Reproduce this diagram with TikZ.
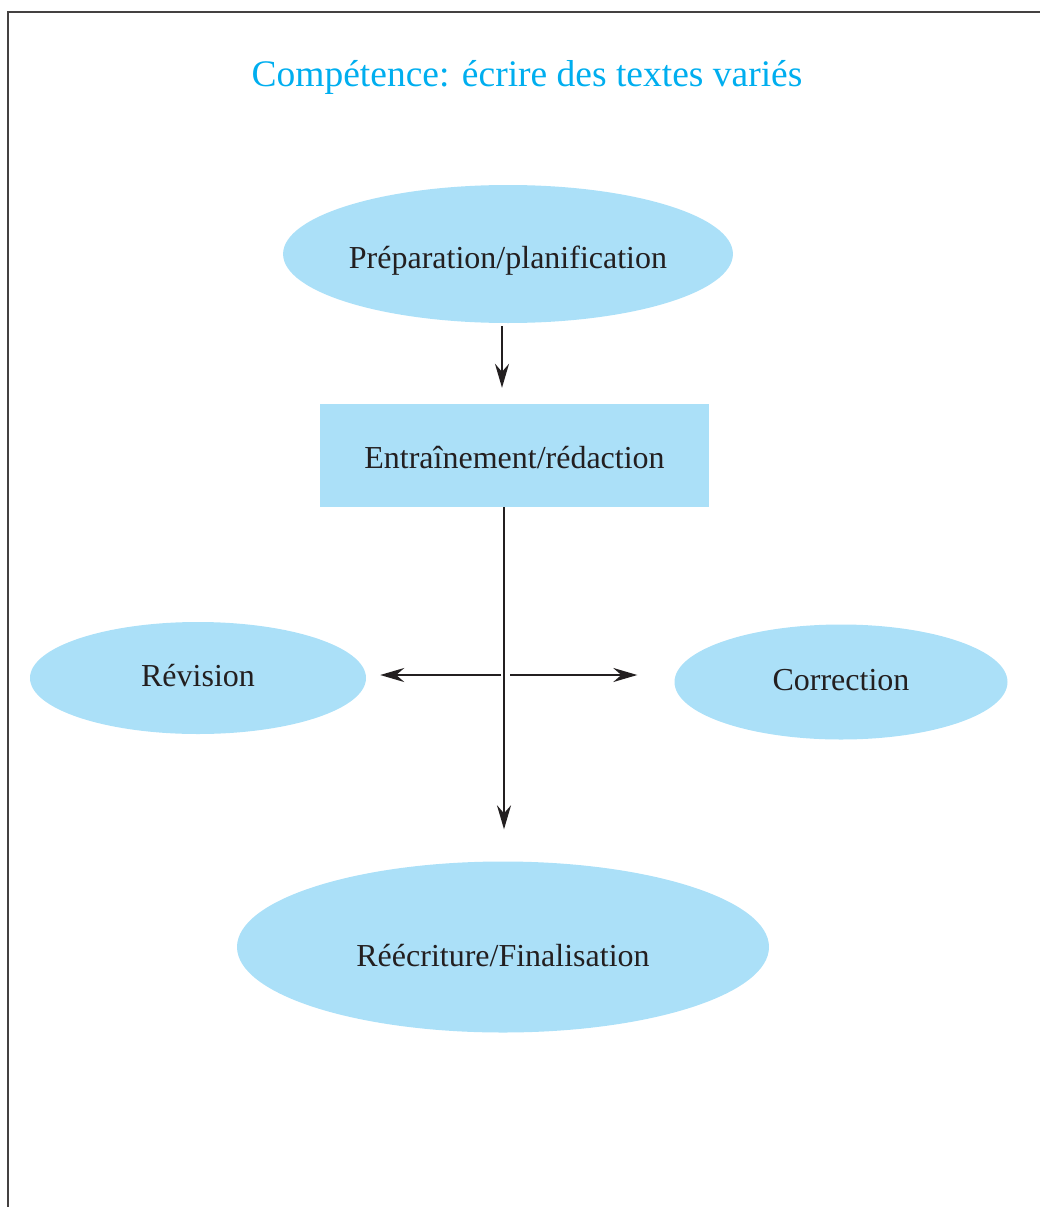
\documentclass[tikz,border=0pt]{standalone}
\usepackage{fontspec}
\setmainfont{Liberation Serif}
\usetikzlibrary{shapes,arrows,arrows.meta}

\definecolor{bulle}{RGB}{171,224,248}
\definecolor{titre}{RGB}{0,174,239}
\definecolor{trait}{RGB}{35,31,32}

% shift the text inside a node, not the node
\newcommand{\decale}[2]{\raisebox{#1}[\height][\depth]{#2}}

\begin{document}
\begin{tikzpicture}[x=1pt, y=-1pt, >={Stealth[length=24pt, width=14pt, inset=8pt]}, font=\fontsize{32}{38}\selectfont]

% ellipse style
\tikzstyle{etape} = [
    ellipse,
    fill=bulle,
    inner sep=0pt,
    text=trait
]

% box style
\tikzstyle{boite} = [
    rectangle,
    fill = bulle,
    inner sep=0pt,
    minimum width=389,
    minimum height=103,
    text=trait
]

% connector style
\tikzstyle{fleche} = [
    ->,
    draw=trait,
    line width=2.4pt
]

\useasboundingbox (0,0) rectangle (1039,1207);

% Frame, cut by the page.
\draw [line width=2.4pt, draw=trait!85] (8,1230) -- (8,12) -- (1060,12);

% Place the nodes.
\node [text=titre, font=\fontsize{37.5}{44}\selectfont] (title) at (527,77) {Compétence: écrire des textes variés};

\node [etape, minimum width=445, minimum height=138] (prep) at (508,254) {\decale{-7pt}{Préparation/planification}};
\node [boite] (redaction) at (514.5,455.5) {\decale{-2pt}{Entraînement/rédaction}};
\node [etape, minimum width=336, minimum height=112] (revision) at (198,678) {\decale{2pt}{Révision}};
\node [etape, minimum width=333, minimum height=115] (correction) at (841,682) {\decale{2pt}{Correction}};
\node [etape, minimum width=532, minimum height=171] (reecriture) at (503,947) {\decale{-9pt}{Réécriture/Finalisation}};

\coordinate (hub) at (504,675);
\coordinate (hubL) at (501,675);
\coordinate (hubR) at (510,675);

% Connect the nodes.
\draw [fleche, shorten <=3pt, shorten >=16pt] (prep.south -| 502,0) -- (redaction.north -| 502,0);
\draw [fleche, shorten >=32pt] (redaction.south -| hub) -- (reecriture.north -| hub);
\draw [fleche, shorten >=14pt] (hubL) -- (hubL -| revision.east);
\draw [fleche, shorten >=37pt] (hubR) -- (hubR -| correction.west);

\end{tikzpicture}
\end{document}
